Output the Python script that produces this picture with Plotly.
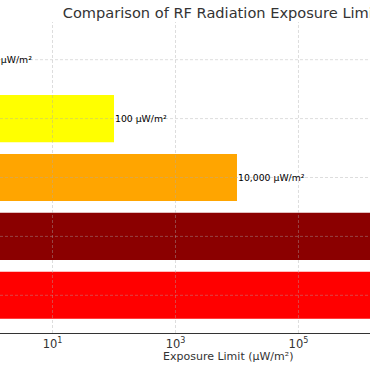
import math
import plotly.graph_objects as go

# Data (bottom to top, as in the reference)
categories = ["ICNIRP Guideline", "FCC Limit", "Salzburg Resolution", "BioInitiative Report", "Building Biology"]
values = [10000000, 10000000, 10000, 100, 1]
colors = ["#ff0000", "#8b0000", "#ffa500", "#ffff00", "#008000"]
tick_vals = [10, 1000, 100000]
tick_text = ["10<sup>1</sup>", "10<sup>3</sup>", "10<sup>5</sup>"]

FONT = "DejaVu Sans"
SHIFT = 20          # part of the figure hidden past the left edge of the window
W = 370 + SHIFT

fig = go.Figure()
fig.add_trace(go.Bar(
    x=values, y=categories, orientation="h",
    marker=dict(color=colors, line=dict(width=0)),
    width=0.8, hoverinfo="skip",
))

grid_line = dict(color="rgba(170,170,170,0.5)", width=0.8, dash="3px,2px")
shapes = []
for tv in tick_vals:
    shapes.append(dict(type="line", xref="x", yref="paper", x0=tv, x1=tv, y0=0, y1=1,
                       line=grid_line, layer="above"))
for c in categories:
    shapes.append(dict(type="line", xref="paper", yref="y", x0=0, x1=1, y0=c, y1=c,
                       line=grid_line, layer="above"))

annotations = []
for c, v in zip(categories, values):
    annotations.append(dict(x=math.log10(v), y=c, xref="x", yref="y", text=f"{v:,} µW/m²",
                            showarrow=False, xanchor="left", yanchor="middle",
                            font=dict(family=FONT, size=9.3, color="black"), borderpad=0))
annotations.append(dict(x=(228 + SHIFT) / W, y=-0.075, xref="paper", yref="paper",
                        text="Exposure Limit (µW/m²)", showarrow=False,
                        xanchor="center", yanchor="middle",
                        font=dict(family=FONT, size=11, color="#333333")))

fig.update_layout(
    width=W, height=370,
    margin=dict(l=0, r=0, t=22, b=37),
    paper_bgcolor="white", plot_bgcolor="white",
    showlegend=False,
    font=dict(family=FONT, color="#333333"),
    title=dict(text="Comparison of RF Radiation Exposure Limits",
               x=(62.7 + SHIFT) / W, xanchor="left", xref="paper",
               y=1 - 13 / 370, yref="container", yanchor="middle",
               font=dict(family=FONT, size=14.6, color="#333333")),
    xaxis=dict(type="log", range=[0.146 - SHIFT / 61.5, 6.163], tickvals=tick_vals, ticktext=tick_text,
               showgrid=False, zeroline=False, showline=True, linecolor="#333333", linewidth=1,
               ticks="", tickfont=dict(family=FONT, size=11.5, color="#333333")),
    yaxis=dict(range=[-0.64, 4.64], showgrid=False, zeroline=False, showline=False,
               showticklabels=False, ticks=""),
    shapes=shapes,
    annotations=annotations,
)

post = ("document.body.style.margin='0';document.body.style.overflow='hidden';"
        "var d=document.getElementById('{plot_id}');d.style.marginLeft='-%dpx';" % SHIFT)
fig.write_html("out.html", post_script=post, config={"displayModeBar": False})
